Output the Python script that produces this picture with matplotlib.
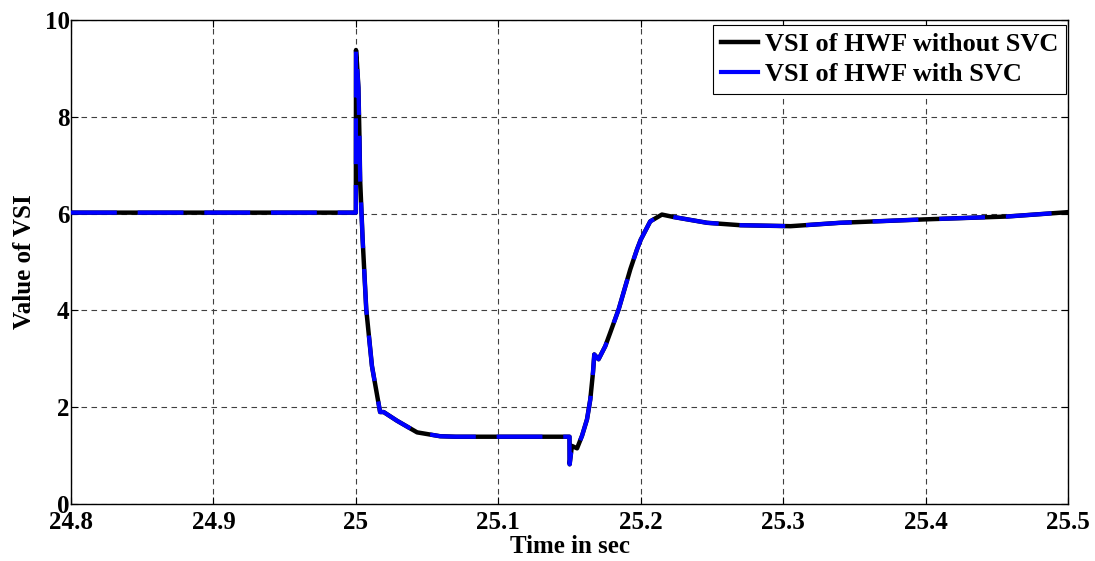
import matplotlib
matplotlib.use("Agg")
import matplotlib.pyplot as plt

# VSI of the HWF bus around the disturbance at t = 25 s
time_s = [24.8, 25.0, 25.0001, 25.0008, 25.0018, 25.0025, 25.003, 25.004,
          25.0047, 25.0073, 25.0113, 25.017, 25.0195, 25.0289, 25.043,
          25.0592, 25.07, 25.15, 25.1501, 25.1517, 25.1553, 25.1588,
          25.1623, 25.1646, 25.1665, 25.1674, 25.1704, 25.1751, 25.1786,
          25.1845, 25.1927, 25.1974, 25.2, 25.2067, 25.2149, 25.223,
          25.2466, 25.27, 25.3052, 25.34, 25.3988, 25.4574, 25.5]

vsi_without_svc = [6.02, 6.02, 9.38, 9.1, 8.6, 7.6, 6.7, 6.0,
                   5.5, 4.02, 2.85, 1.9, 1.9, 1.72, 1.48,
                   1.40, 1.39, 1.39, 0.82, 1.2, 1.15, 1.41,
                   1.75, 2.16, 2.72, 3.09, 2.99, 3.26, 3.54,
                   4.02, 4.85, 5.26, 5.46, 5.84, 5.98, 5.93,
                   5.81, 5.76, 5.74, 5.81, 5.88, 5.94, 6.03]

vsi_with_svc = [6.02, 6.02, 9.38, 9.1, 8.6, 7.6, 6.7, 6.0,
                5.5, 4.02, 2.85, 1.9, 1.9, 1.72, 1.48,
                1.40, 1.39, 1.39, 0.82, 1.2, 1.15, 1.41,
                1.75, 2.16, 2.72, 3.09, 2.99, 3.26, 3.54,
                4.02, 4.85, 5.26, 5.46, 5.84, 5.98, 5.93,
                5.81, 5.76, 5.74, 5.81, 5.88, 5.94, 6.03]

x_ticks = [24.8, 24.9, 25.0, 25.1, 25.2, 25.3, 25.4, 25.5]
x_tick_labels = ["24.8", "24.9", "25", "25.1", "25.2", "25.3", "25.4", "25.5"]
y_ticks = [0, 2, 4, 6, 8, 10]

plt.rcParams["font.family"] = ["Liberation Serif", "DejaVu Serif"]
plt.rcParams["font.weight"] = "bold"

fig = plt.figure(figsize=(10.95, 5.61), dpi=100)
ax = fig.add_axes([71 / 1095, 1 - 504 / 561, 997 / 1095, 484 / 561])

ax.plot(time_s, vsi_without_svc, color="black", linewidth=3.2,
        label="VSI of HWF without SVC", zorder=3)
ax.plot(time_s, vsi_with_svc, color="blue", linewidth=3, dashes=(11, 5),
        label="VSI of HWF with SVC", zorder=4)

ax.set_xlim(24.8, 25.5)
ax.set_ylim(0, 10)
ax.set_xticks(x_ticks)
ax.set_xticklabels(x_tick_labels)
ax.set_yticks(y_ticks)

ax.tick_params(direction="in", top=True, right=True, length=5, width=0.8,
               labelsize=18, pad=1)
ax.tick_params(axis="x", pad=5)
ax.grid(True, color="0.25", linestyle=(0, (5, 4)), linewidth=0.8)
for s in ax.spines.values():
    s.set_linewidth(1.0)

ax.set_xlabel("Time in sec", fontsize=18, fontweight="bold", labelpad=1)
ax.set_ylabel("Value of VSI", fontsize=18, fontweight="bold", labelpad=6)

leg = ax.legend(loc="upper right", bbox_to_anchor=(1066 / 1095, 1 - 25 / 561),
                bbox_transform=fig.transFigure, borderaxespad=0,
                fancybox=False, edgecolor="black", framealpha=1,
                prop={"size": 19, "weight": "bold"},
                handlelength=1.4, handletextpad=0.25, borderpad=0.3,
                labelspacing=0.25)
leg.get_frame().set_linewidth(0.8)
for line in leg.get_lines():
    line.set_linestyle("-")

fig.savefig("out.png", dpi=100, facecolor="white")
